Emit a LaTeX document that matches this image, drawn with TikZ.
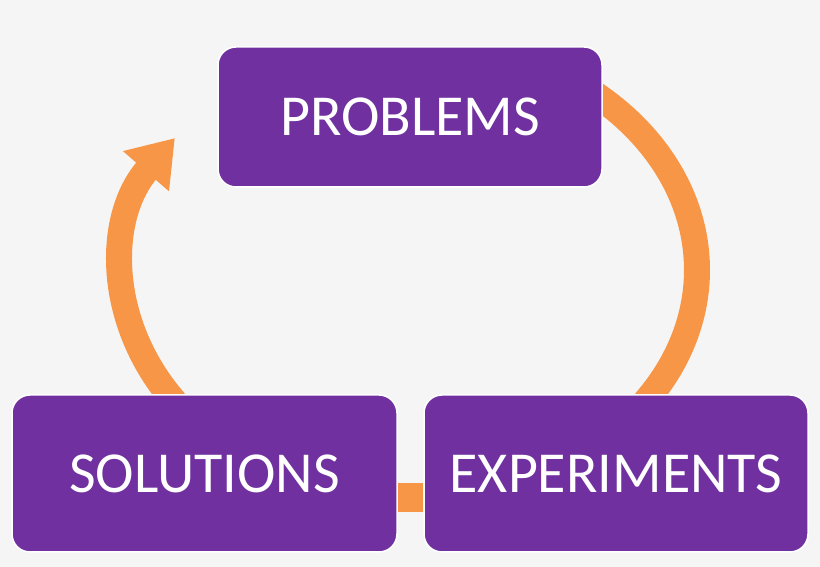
\documentclass[tikz,border=0pt]{standalone}
\usepackage{fontspec}
\setmainfont{Carlito}
\usetikzlibrary{arrows.meta}
\definecolor{purp}{HTML}{7030A0}
\definecolor{orng}{HTML}{F79646}
\definecolor{bg}{HTML}{F5F5F5}
\begin{document}
\begin{tikzpicture}[x=1pt,y=1pt,
  box/.style={draw=white,line width=1.5pt,fill=purp,rounded corners=18pt,text=white,font=\fontsize{58}{66}\selectfont,minimum height=140pt,minimum width=384pt},
  arc/.style={draw=orng,line width=26pt}]
\fill[bg] (0,0) rectangle (820,567);
\useasboundingbox (0,0) rectangle (820,567);
% arcs
\draw[arc,-{Triangle[width=58pt,length=44pt]}] (410,297) ++(215:287 and 230) arc[start angle=215,end angle=145,x radius=287,y radius=230];
\draw[arc] (410,297) ++(64:287 and 230) arc[start angle=64,end angle=-35,x radius=287,y radius=230];
\node[box,minimum height=140pt] (p) at (410,450) {PROBLEMS};
\node[box,minimum height=157pt,minimum width=385pt] (s) at (204.5,93.5) {SOLUTIONS};
\node[box,minimum height=157pt,minimum width=384pt] (e) at (616,93.5) {EXPERIMENTS};
\fill[orng] (s.east|-0,55) rectangle (e.west|-0,84);
\end{tikzpicture}
\end{document}
